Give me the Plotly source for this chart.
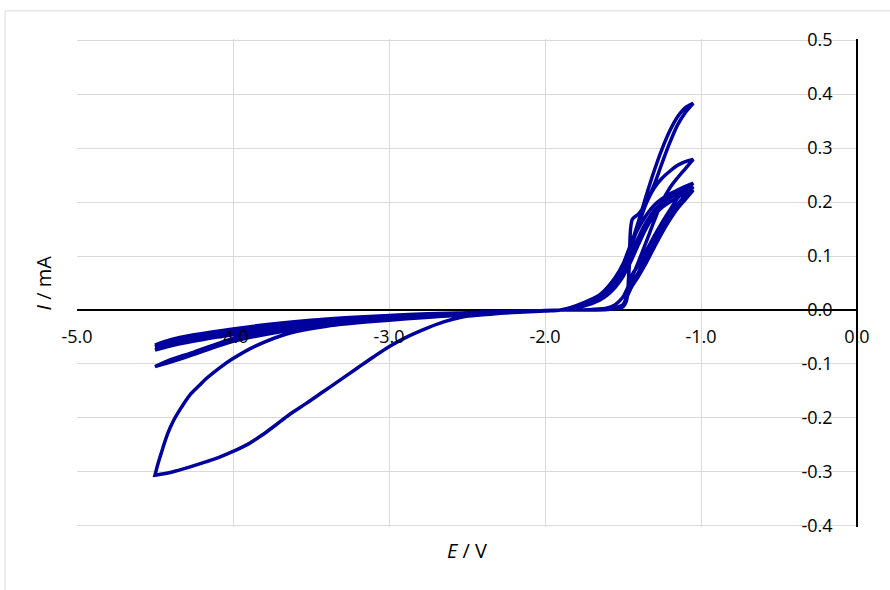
import plotly.graph_objects as go

# ---------------- data ----------------
x_tick_vals = [-5.0, -4.0, -3.0, -2.0, -1.0, 0.0]
x_tick_labels = ["-5.0", "-4.0", "-3.0", "-2.0", "-1.0", "0.0"]
y_tick_vals = [-0.4, -0.3, -0.2, -0.1, 0.0, 0.1, 0.2, 0.3, 0.4, 0.5]
y_tick_labels = ["-0.4", "-0.3", "-0.2", "-0.1", "0.0", "0.1", "0.2", "0.3", "0.4", "0.5"]

# cycle 1: large cathodic loop
c1_cath_E = [-1.9, -2.0, -2.2, -2.4, -2.53, -2.65, -2.76, -2.9, -3.0, -3.1, -3.2, -3.31, -3.42, -3.53, -3.64, -3.73, -3.81, -3.9, -4.0, -4.09, -4.17, -4.28, -4.39, -4.5]
c1_cath_I = [0.0, -0.001, -0.004, -0.009, -0.013, -0.022, -0.034, -0.052, -0.068, -0.087, -0.107, -0.129, -0.151, -0.173, -0.194, -0.214, -0.231, -0.248, -0.262, -0.273, -0.281, -0.291, -0.300, -0.306]
c1_anod_E = [-4.5, -4.48, -4.45, -4.42, -4.385, -4.33, -4.278, -4.22, -4.171, -4.09, -4.0, -3.85, -3.64, -3.4, -3.0, -2.5, -2.0, -1.9]
c1_anod_I = [-0.306, -0.284, -0.256, -0.23, -0.207, -0.180, -0.158, -0.141, -0.127, -0.108, -0.090, -0.066, -0.043, -0.030, -0.019, -0.009, -0.002, 0.0]

# later cycles: thin cathodic loops (shared potential grid)
thin_cath_E = [-1.9, -2.0, -2.25, -2.5, -2.75, -3.0, -3.25, -3.5, -3.75, -4.0, -4.2, -4.35, -4.5]
thin_anod_E = [-4.5, -4.4, -4.25, -4.0, -3.75, -3.5, -3.25, -3.0, -2.75, -2.5, -2.25, -2.0, -1.9]
c2_cath_I = [0.0, -0.001, -0.005, -0.009, -0.013, -0.018, -0.024, -0.032, -0.043, -0.058, -0.077, -0.092, -0.105]
c2_anod_I = [-0.105, -0.092, -0.078, -0.053, -0.039, -0.029, -0.022, -0.016, -0.011, -0.007, -0.004, -0.001, 0.0]
c3_cath_I = [0.0, -0.001, -0.004, -0.008, -0.012, -0.017, -0.022, -0.028, -0.036, -0.046, -0.055, -0.063, -0.074]
c3_anod_I = [-0.074, -0.064, -0.054, -0.041, -0.032, -0.024, -0.018, -0.013, -0.009, -0.006, -0.003, -0.001, 0.0]
c4_cath_I = [0.0, -0.001, -0.004, -0.007, -0.011, -0.015, -0.020, -0.026, -0.033, -0.042, -0.050, -0.058, -0.068]
c4_anod_I = [-0.068, -0.058, -0.049, -0.037, -0.028, -0.021, -0.016, -0.012, -0.008, -0.005, -0.003, -0.001, 0.0]
c5_cath_I = [0.0, -0.001, -0.004, -0.007, -0.010, -0.014, -0.019, -0.025, -0.031, -0.040, -0.048, -0.056, -0.065]
c5_anod_I = [-0.065, -0.055, -0.046, -0.035, -0.026, -0.019, -0.014, -0.010, -0.007, -0.005, -0.003, -0.001, 0.0]

# anodic wave (shared potential grids)
rise_E = [-1.8, -1.7, -1.65, -1.6, -1.55, -1.5, -1.45, -1.4, -1.35, -1.3, -1.25, -1.2, -1.15, -1.1, -1.05]
ret_E = [-1.05, -1.1, -1.15, -1.2, -1.25, -1.3, -1.35, -1.4, -1.44, -1.46, -1.48, -1.5, -1.55, -1.6, -1.7, -1.8]
c1_rise_I = [0.008, 0.020, 0.028, 0.042, 0.060, 0.085, 0.122, 0.152, 0.176, 0.194, 0.206, 0.215, 0.222, 0.229, 0.235]
c1_ret_I = [0.235, 0.222, 0.207, 0.185, 0.162, 0.137, 0.110, 0.083, 0.066, 0.046, 0.015, 0.006, 0.002, 0.001, 0.0, 0.0]
c2_rise_I = [0.005, 0.014, 0.021, 0.032, 0.048, 0.070, 0.100, 0.135, 0.163, 0.184, 0.198, 0.208, 0.216, 0.222, 0.228]
c2_ret_I = [0.228, 0.212, 0.196, 0.176, 0.152, 0.125, 0.097, 0.070, 0.050, 0.038, 0.022, 0.010, 0.004, 0.002, 0.001, 0.0]
c3_rise_I = [0.006, 0.016, 0.024, 0.036, 0.054, 0.080, 0.115, 0.158, 0.198, 0.226, 0.244, 0.257, 0.268, 0.275, 0.279]
c3_ret_I = [0.279, 0.262, 0.245, 0.226, 0.200, 0.165, 0.127, 0.090, 0.062, 0.048, 0.035, 0.024, 0.010, 0.004, 0.001, 0.0]
c4_rise_I = [0.006, 0.017, 0.025, 0.038, 0.056, 0.083, 0.120, 0.165, 0.213, 0.258, 0.298, 0.332, 0.358, 0.375, 0.383]
c4_ret_I = [0.383, 0.366, 0.343, 0.310, 0.272, 0.232, 0.200, 0.178, 0.168, 0.080, 0.015, 0.008, 0.004, 0.002, 0.001, 0.0]
c5_rise_I = [0.004, 0.012, 0.018, 0.028, 0.042, 0.062, 0.090, 0.122, 0.152, 0.175, 0.190, 0.200, 0.209, 0.216, 0.222]
c5_ret_I = [0.222, 0.205, 0.188, 0.167, 0.143, 0.116, 0.088, 0.063, 0.045, 0.034, 0.020, 0.009, 0.003, 0.001, 0.0, 0.0]

# ---------------- assemble the continuous scan ----------------
E = []
I = []
E += c1_cath_E + c1_anod_E + rise_E + ret_E
I += c1_cath_I + c1_anod_I + c1_rise_I + c1_ret_I
for ci, ai, ri, rti in [
    (c2_cath_I, c2_anod_I, c2_rise_I, c2_ret_I),
    (c3_cath_I, c3_anod_I, c3_rise_I, c3_ret_I),
    (c4_cath_I, c4_anod_I, c4_rise_I, c4_ret_I),
    (c5_cath_I, c5_anod_I, c5_rise_I, c5_ret_I),
]:
    E += thin_cath_E + thin_anod_E + rise_E + ret_E
    I += ci + ai + ri + rti

FONT = "Open Sans"

fig = go.Figure()
fig.add_trace(go.Scatter(
    x=E, y=I, mode="lines",
    line=dict(color="#00009C", width=3.5, shape="spline", smoothing=0.9),
    showlegend=False, hoverinfo="skip",
))

fig.update_layout(
    width=890, height=590,
    margin=dict(l=77, r=33, t=39, b=63),
    plot_bgcolor="white", paper_bgcolor="white",
    font=dict(family=FONT, size=18, color="black"),
    xaxis=dict(
        range=[-5, 0], tickvals=x_tick_vals, ticktext=x_tick_labels,
        showgrid=True, gridcolor="#d9d9d9", gridwidth=1,
        zeroline=False, showline=False, ticks="",
        anchor="free", position=0.402 / 0.904,
        ticklabelstandoff=14,
        tickfont=dict(family=FONT, size=18, color="black"),
    ),
    yaxis=dict(
        range=[-0.402, 0.502], tickvals=y_tick_vals, ticktext=y_tick_labels,
        side="left", anchor="free", position=1.0,
        showline=True, linecolor="black", linewidth=1.5,
        showgrid=True, gridcolor="#d9d9d9", gridwidth=1,
        zeroline=True, zerolinecolor="black", zerolinewidth=1.5,
        ticks="", ticklabelstandoff=20,
        tickfont=dict(family=FONT, size=18, color="black"),
    ),
    shapes=[dict(type="rect", xref="paper", yref="paper",
                 x0=-0.0923, x1=1.2, y0=-0.2, y1=1.0576,
                 line=dict(color="#d9d9d9", width=1), fillcolor="rgba(0,0,0,0)",
                 layer="below")],
    annotations=[
        dict(text="<i>E</i> / V", xref="paper", yref="paper", x=0.5, y=-0.049,
             xanchor="center", yanchor="middle", showarrow=False,
             font=dict(family=FONT, size=20, color="black")),
        dict(text="<i>I</i> / mA", xref="paper", yref="paper", x=-0.043, y=0.5,
             xanchor="center", yanchor="middle", showarrow=False, textangle=-90,
             font=dict(family=FONT, size=20, color="black")),
    ],
)

fig.write_html(
    "out.html",
    config={"displayModeBar": False},
    post_script="document.body.style.margin='0';document.body.style.overflow='hidden';",
)
